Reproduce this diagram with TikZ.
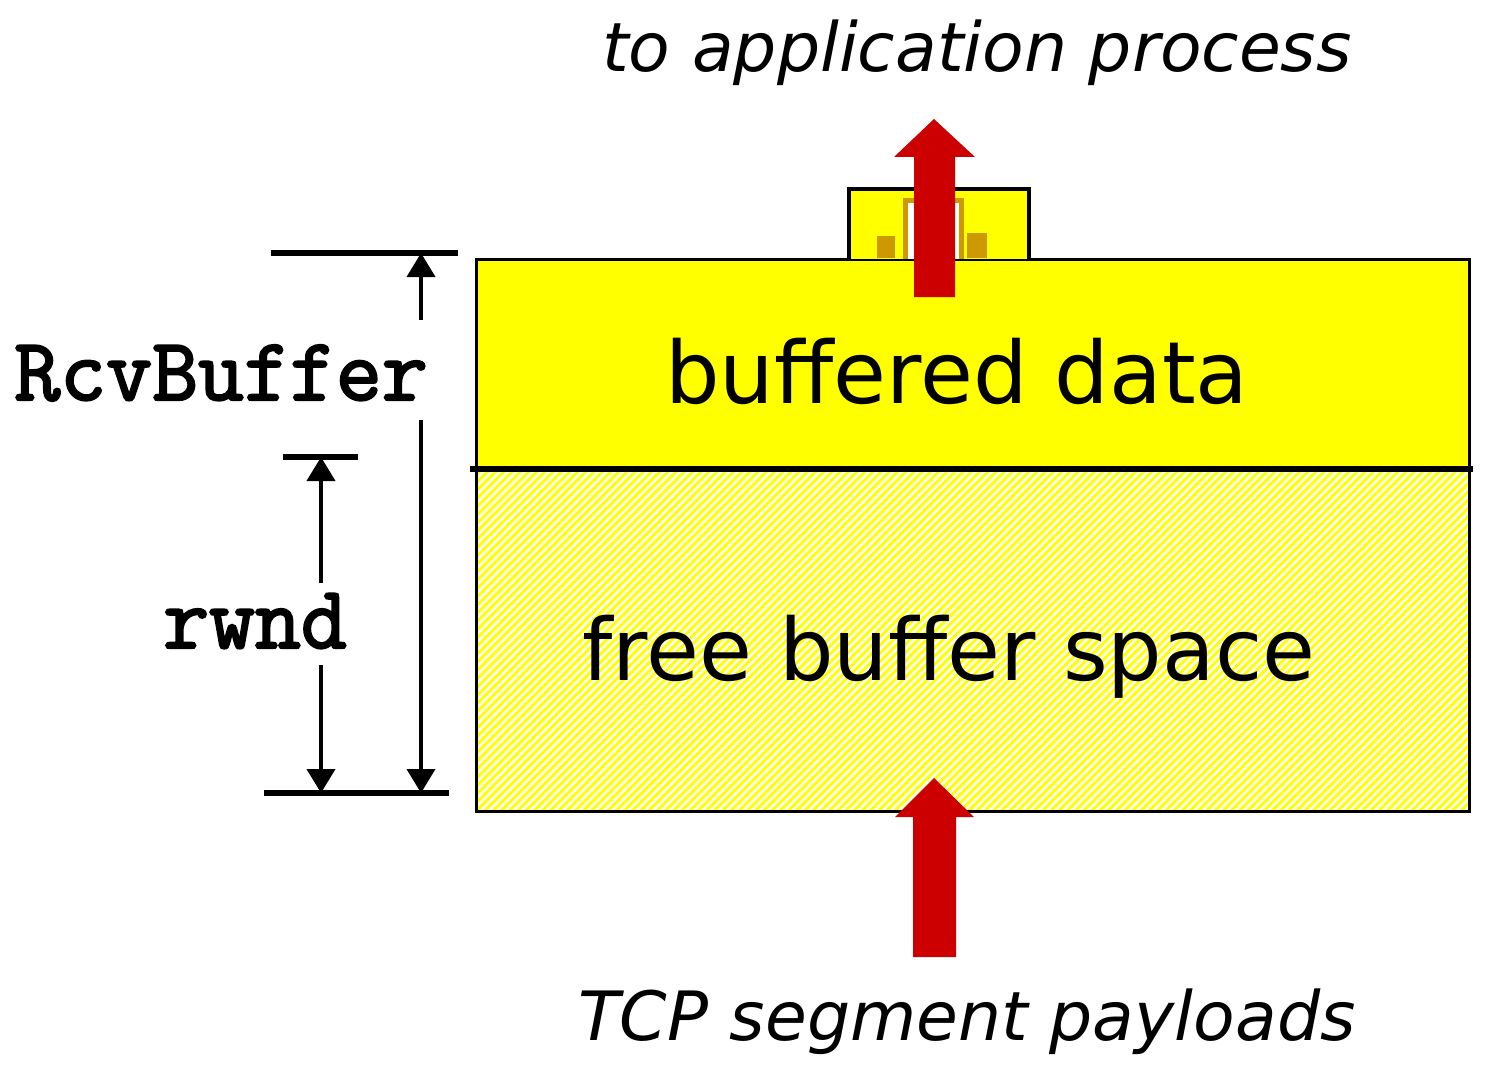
\documentclass[tikz,border=0pt]{standalone}
\usepackage{fontspec}
\setmainfont{DejaVu Sans}
\newfontfamily\monob[FakeBold=2.5]{Latin Modern Mono}
\usetikzlibrary{patterns.meta,arrows.meta}
\definecolor{byel}{HTML}{FFFF00}
\definecolor{bred}{HTML}{CC0000}
\definecolor{bora}{HTML}{CC9900}
\tikzset{
  redarrow/.style={fill=bred,draw=none},
  dimline/.style={line width=3.3pt},
  dimarrow/.style={line width=2pt,-{Triangle[width=14pt,length=12pt]}},
  bigtext/.style={font=\fontsize{43}{50}\selectfont,anchor=base,inner sep=0pt},
  itext/.style={font=\fontsize{34}{40}\selectfont\itshape,anchor=base,inner sep=0pt},
  codetext/.style={font=\monob\fontsize{44.6}{50}\selectfont,anchor=base,inner sep=0pt},
}
\begin{document}
\begin{tikzpicture}[x=0.5pt,y=-0.5pt]
\useasboundingbox (0,0) rectangle (1500,1070);
% buffer regions
\fill[byel] (476,259) rectangle (1469,811);
\pattern[pattern={Lines[angle=45,distance=2.9pt,line width=1.3pt]},pattern color=white] (476,469) rectangle (1469,811);
\draw[line width=1.5pt] (476,259) rectangle (1469,811);
\draw[line width=3.3pt] (470,469) -- (1473,469);
\node[bigtext] (buf) at (957,403) {buffered data};
\node[bigtext] (free) at (949,680) {free buffer space};
% small box on top
\draw[fill=byel,line width=2pt] (849,259) -- (849,189) -- (1029,189) -- (1029,259);
\draw[draw=bora,fill=white,line width=2.5pt] (905,259) -- (905,200) -- (961,200) -- (961,259);
\fill[bora] (877,236) rectangle (895,258);
\fill[bora] (967,233) rectangle (987,258);
% red arrows
\fill[redarrow] (914,297) -- (914,157) -- (894,157) -- (934,119) -- (975,157) -- (955,157) -- (955,297) -- cycle;
\fill[redarrow] (913,957) -- (913,817) -- (895,817) -- (934,778) -- (974,817) -- (956,817) -- (956,957) -- cycle;
\node[itext] (app) at (977,72) {to application process};
\node[itext] (tcp) at (967,1040) {TCP segment payloads};
% dimension lines
\draw[dimline] (271,253) -- (458,253);
\draw[dimline] (283,457) -- (358,457);
\draw[dimline] (264,793) -- (449,793);
\coordinate (rbtop) at (421,253);
\coordinate (rbbot) at (421,793);
\coordinate (rwtop) at (321,457);
\coordinate (rwbot) at (321,793);
\node[codetext] (rcv) at (221,400) {RcvBuffer};
\node[codetext] (rwnd) at (255,648) {rwnd};
\draw[dimarrow] (421,320) -- (rbtop);
\draw[dimarrow] (421,420) -- (rbbot);
\draw[dimarrow] (321,583) -- (rwtop);
\draw[dimarrow] (321,665) -- (rwbot);
\end{tikzpicture}
\end{document}
